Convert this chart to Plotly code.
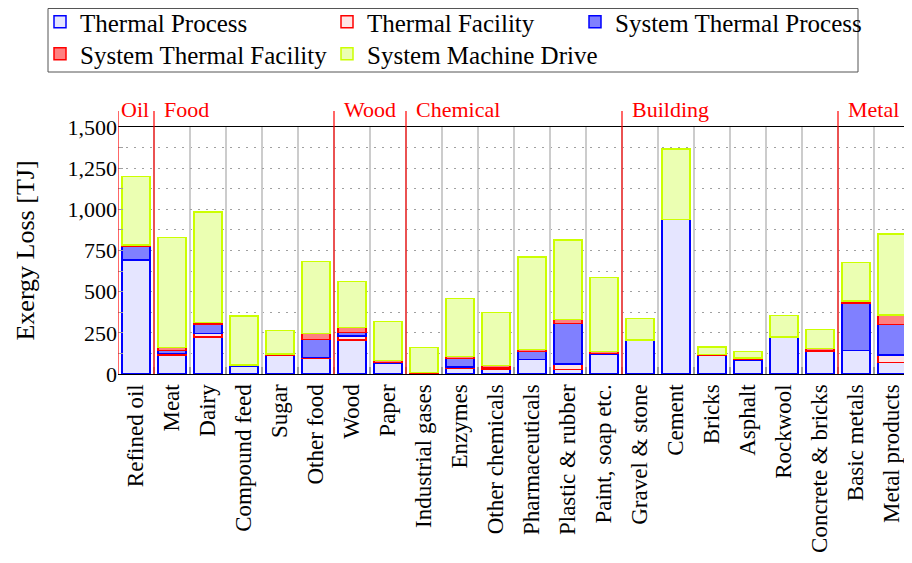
import plotly.graph_objects as go

categories = ["Refined oil", "Meat", "Dairy", "Compound feed", "Sugar", "Other food",
              "Wood", "Paper", "Industrial gases", "Enzymes", "Other chemicals",
              "Pharmaceuticals", "Plastic & rubber", "Paint, soap etc.", "Gravel & stone",
              "Cement", "Bricks", "Asphalt", "Rockwool", "Concrete & bricks",
              "Basic metals", "Metal products"]

group_names = ["Oil", "Food", "Wood", "Chemical", "Building", "Metal"]
group_sizes = [1, 5, 2, 6, 6, 2]

thermal_process = [692, 115, 226, 45, 113, 93, 206, 63, 4, 36, 28, 87, 28, 117, 205, 939, 115, 85, 223, 138, 142, 69]
thermal_facility = [0, 10, 20, 2, 1, 6, 24, 3, 0, 6, 4, 0, 34, 3, 0, 0, 0, 0, 0, 0, 0, 47]
system_thermal_process = [85, 18, 58, 4, 2, 112, 22, 4, 1, 53, 5, 51, 246, 5, 0, 0, 0, 2, 0, 2, 290, 186]
system_thermal_facility = [5, 19, 10, 3, 4, 36, 30, 11, 3, 12, 16, 12, 24, 13, 3, 0, 2, 10, 1, 16, 12, 55]
system_machine_drive = [418, 666, 670, 299, 144, 437, 280, 239, 154, 352, 320, 560, 482, 447, 130, 427, 47, 41, 132, 115, 234, 493]

series = [
    ("Thermal Process", thermal_process, "rgb(229,229,255)", "rgb(0,0,255)"),
    ("Thermal Facility", thermal_facility, "rgb(255,229,229)", "rgb(255,0,0)"),
    ("System Thermal Process", system_thermal_process, "rgb(128,128,255)", "rgb(0,0,255)"),
    ("System Thermal Facility", system_thermal_facility, "rgb(255,128,128)", "rgb(255,0,0)"),
    ("System Machine Drive", system_machine_drive, "rgb(235,255,178)", "rgb(204,255,0)"),
]

FONT = "Liberation Serif"
W, H = 904, 555
L, R, T, B = 110, 2, 119, 189
PW = W - L - R
PH = H - T - B


def px_x(fx):
    return (fx - L) / PW


def px_y(fy):
    return (H - B - fy) / PH


# legend slots: (left, top) in figure pixels, one legend per entry, 3 columns x 2 rows
legend_cols = [32, 319, 567]
legend_rows = [-9, 23]

fig = go.Figure()
legend_layout = {}
for i, (name, vals, fill, line) in enumerate(series):
    key = "legend" if i == 0 else "legend%d" % (i + 1)
    fig.add_trace(go.Bar(
        x=categories, y=vals, name=name, legend=key,
        marker=dict(color=fill, line=dict(color=line, width=1.5)),
    ))
    legend_layout[key] = dict(
        orientation="v", xanchor="left", yanchor="top",
        x=px_x(legend_cols[i % 3]), y=px_y(legend_rows[i // 3]),
        borderwidth=0, bgcolor="rgba(0,0,0,0)",
        font=dict(family=FONT, size=25),
    )

# group separators and labels
shapes = []
annotations = []
start = 0
for gname, gsize in zip(group_names, group_sizes):
    xb = start - 0.5
    shapes.append(dict(type="line", xref="x", yref="paper", x0=xb, x1=xb,
                       y0=0, y1=1.065, line=dict(color="rgb(255,0,0)", width=1.2)))
    annotations.append(dict(x=xb, y=1.069, xref="x", yref="paper", text=gname,
                            showarrow=False, xanchor="left", yanchor="middle",
                            xshift=1 if start == 0 else 8,
                            font=dict(family=FONT, size=22, color="rgb(255,0,0)")))
    start += gsize

# legend frame
shapes.append(dict(type="rect", xref="paper", yref="paper",
                   x0=px_x(40), x1=px_x(850), y0=px_y(64), y1=px_y(0.5),
                   line=dict(color="#555", width=1), fillcolor="rgba(0,0,0,0)"))

fig.update_layout(
    width=W, height=H,
    margin=dict(l=L, r=R, t=T, b=B, autoexpand=False),
    paper_bgcolor="white", plot_bgcolor="white",
    barmode="stack", bargap=0.22,
    font=dict(family=FONT, size=22, color="black"),
    showlegend=True,
    shapes=shapes,
    annotations=annotations,
    xaxis=dict(
        type="category", range=[-0.5, len(categories) - 0.5],
        tickson="boundaries", showgrid=True, gridcolor="#cccccc", gridwidth=1.5,
        ticks="inside", ticklen=7, tickcolor="#9a9a9a", tickwidth=1.5,
        tickangle=-90, tickfont=dict(family=FONT, size=23),
        showline=True, linecolor="black", linewidth=1.2, mirror=True,
        zeroline=False, automargin=False,
    ),
    yaxis=dict(
        range=[0, 1500], dtick=250, tickformat=",d",
        showgrid=True, gridcolor="#a0a0a0", griddash="2px,6px", gridwidth=1,
        ticks="inside", ticklen=5, tickcolor="#a0a0a0", mirror="ticks",
        minor=dict(dtick=125, showgrid=True, gridcolor="#a0a0a0", griddash="2px,6px",
                   ticks="inside", ticklen=5, tickcolor="#a0a0a0"),
        showline=False, zeroline=False, automargin=False,
        tickfont=dict(family=FONT, size=22),
        title=dict(text="Exergy Loss [TJ]", font=dict(family=FONT, size=26), standoff=25),
    ),
    **legend_layout,
)

fig.write_html("out.html")
